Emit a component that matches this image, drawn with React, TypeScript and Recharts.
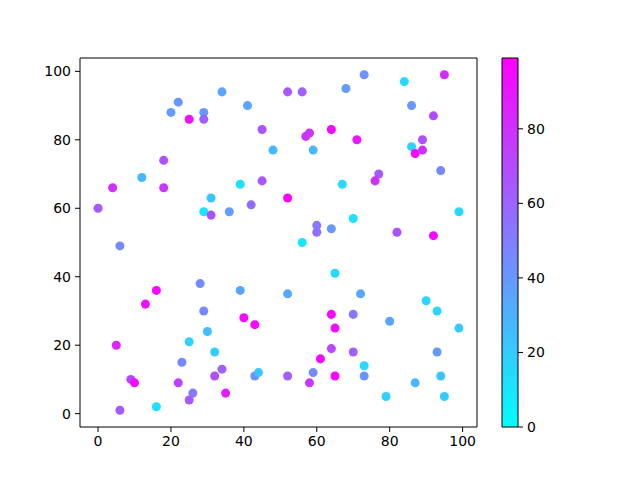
import { ScatterChart, Scatter, XAxis, YAxis, ZAxis, Cell, ReferenceArea, BarChart, Bar } from "recharts"

// scatter values
const xs = [
  22, 20, 25, 29, 29, 18, 12, 4, 18, 0, 31, 29, 31, 6, 34, 41, 52, 56, 68, 45,
  57, 58, 64, 48, 59, 39, 45, 67, 52, 36, 42, 60, 60, 64, 56, 73, 84, 95, 86, 92,
  71, 89, 86, 87, 89, 77, 76, 94, 70, 99, 82, 92, 28, 16, 13, 29, 30, 25, 32, 5,
  23, 32, 9, 10, 22, 26, 25, 6, 16, 65, 39, 52, 40, 43, 64, 65, 64, 61, 34, 35,
  43, 44, 52, 59, 58, 65, 72, 90, 93, 70, 80, 99, 70, 93, 73, 73, 94, 87, 79, 95,
]
const ys = [
  91, 88, 86, 88, 86, 74, 69, 66, 66, 60, 63, 59, 58, 49, 94, 90, 94, 94, 95, 83,
  81, 82, 83, 77, 77, 67, 68, 67, 63, 59, 61, 55, 53, 54, 50, 99, 97, 99, 90, 87,
  80, 80, 78, 76, 77, 70, 68, 71, 57, 59, 53, 52, 38, 36, 32, 30, 24, 21, 18, 20,
  15, 11, 10, 9, 9, 6, 4, 1, 2, 41, 36, 35, 28, 26, 29, 25, 19, 16, 13, 6,
  11, 12, 11, 12, 9, 11, 35, 33, 30, 29, 27, 25, 18, 18, 14, 11, 11, 9, 5, 5,
]
const cs = [
  40, 38, 92, 40, 62, 68, 28, 80, 78, 65, 22, 10, 68, 45, 35, 35, 65, 62, 38, 66,
  80, 78, 95, 28, 28, 12, 66, 15, 97, 38, 58, 52, 56, 40, 10, 42, 14, 82, 40, 70,
  90, 68, 18, 97, 80, 64, 80, 45, 12, 14, 68, 95, 45, 95, 92, 45, 25, 18, 20, 85,
  45, 68, 72, 95, 75, 52, 65, 64, 12, 15, 35, 33, 95, 97, 95, 94, 72, 95, 62, 88,
  42, 22, 62, 45, 78, 97, 33, 15, 16, 52, 35, 20, 62, 40, 15, 42, 22, 28, 18, 20,
]
const xTicks = [0, 20, 40, 60, 80, 100]
const yTicks = [0, 20, 40, 60, 80, 100]
const cTicks = [0, 20, 40, 60, 80]
const cMin = 0
const cMax = 99

const points = xs.map((x, i) => ({ x, y: ys[i], c: cs[i] }))

// matplotlib "cool": cyan -> magenta
function cool(v: number) {
  const t = (v - cMin) / (cMax - cMin)
  return `rgb(${Math.round(255 * t)},${Math.round(255 * (1 - t))},255)`
}

const font = { fontFamily: "DejaVu Sans", fontSize: 14, fill: "#000" }

export default function App() {
  return (
    <div style={{ position: "absolute", left: 0, top: 0, width: 640, height: 480, background: "#fff" }}>
      <div style={{ position: "absolute", left: 0, top: 0 }}>
        <ScatterChart width={640} height={480} margin={{ top: 58, right: 163, bottom: 23, left: 40 }}>
          <XAxis
            type="number"
            dataKey="x"
            domain={[-4.95, 103.95]}
            ticks={xTicks}
            allowDataOverflow
            height={30}
            tickSize={5}
            tickMargin={4}
            tick={font}
            stroke="#000"
            axisLine={false}
          />
          <YAxis
            type="number"
            dataKey="y"
            domain={[-3.9, 103.9]}
            ticks={yTicks}
            allowDataOverflow
            width={40}
            tickSize={5}
            tickMargin={4}
            tick={font}
            stroke="#000"
            axisLine={false}
          />
          <ZAxis range={[55, 55]} />
          <ReferenceArea
            x1={-4.95}
            x2={103.95}
            y1={-3.9}
            y2={103.9}
            fill="none"
            stroke="#000"
            strokeWidth={1}
            fillOpacity={0}
            ifOverflow="visible"
          />
          <Scatter data={points} isAnimationActive={false}>
            {points.map((p, i) => (
              <Cell key={i} fill={cool(p.c)} />
            ))}
          </Scatter>
        </ScatterChart>
      </div>
      <div style={{ position: "absolute", left: 480, top: 0 }}>
        <BarChart
          width={100}
          height={480}
          data={[{ k: "c", v: cMax }]}
          margin={{ top: 58, right: 22, bottom: 53, left: 22 }}
          barCategoryGap={0}
        >
          <defs>
            <linearGradient id="coolGrad" x1="0" y1="1" x2="0" y2="0">
              <stop offset="0" stopColor="#00ffff" />
              <stop offset="1" stopColor="#ff00ff" />
            </linearGradient>
          </defs>
          <XAxis dataKey="k" hide />
          <YAxis
            orientation="right"
            type="number"
            domain={[cMin, cMax]}
            ticks={cTicks}
            width={40}
            tickSize={5}
            tickMargin={4}
            tick={{ ...font, textAnchor: "start" }}
            stroke="#000"
            axisLine={false}
          />
          <Bar dataKey="v" fill="url(#coolGrad)" stroke="#000" strokeWidth={1} isAnimationActive={false} />
        </BarChart>
      </div>
    </div>
  )
}
